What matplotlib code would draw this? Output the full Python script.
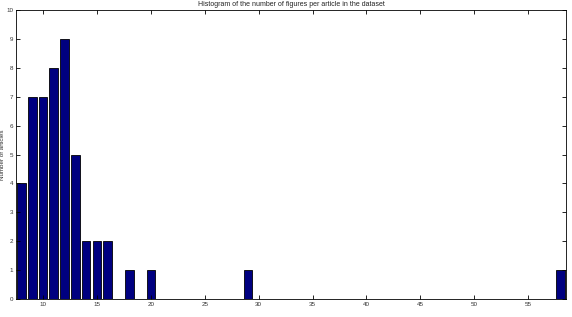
import matplotlib
matplotlib.use('Agg')
import matplotlib.pyplot as plt

# number of figures per article -> number of articles
n_figures = [8, 9, 10, 11, 12, 13, 14, 15, 16, 18, 20, 29, 58]
n_articles = [4, 7, 7, 8, 9, 5, 2, 2, 2, 1, 1, 1, 1]
x_ticks = [10, 15, 20, 25, 30, 35, 40, 45, 50, 55]
y_ticks = list(range(0, 11))

plt.rcParams['font.family'] = ['Liberation Sans', 'DejaVu Sans']

fig = plt.figure(figsize=(5.72, 3.17), dpi=100)
ax = fig.add_axes([0.028, 0.057, 0.9615, 0.911])

ax.bar(n_figures, n_articles, width=0.8, color='#000080', edgecolor='black', linewidth=0.6)

ax.set_xlim(7.5, 58.5)
ax.set_ylim(0, 10)
ax.set_xticks(x_ticks)
ax.set_yticks(y_ticks)
ax.tick_params(direction='in', top=True, right=True, labelsize=4.5, length=3, width=0.6, pad=2,
               labelcolor='#333333')
for s in ax.spines.values():
    s.set_linewidth(0.6)

ax.set_title("Histogram of the number of figures per article in the dataset", fontsize=5, pad=3,
             color='#222222')
ax.set_ylabel("Number of articles", fontsize=4.5, labelpad=1, color='#333333')

fig.savefig('out.png', dpi=100)
